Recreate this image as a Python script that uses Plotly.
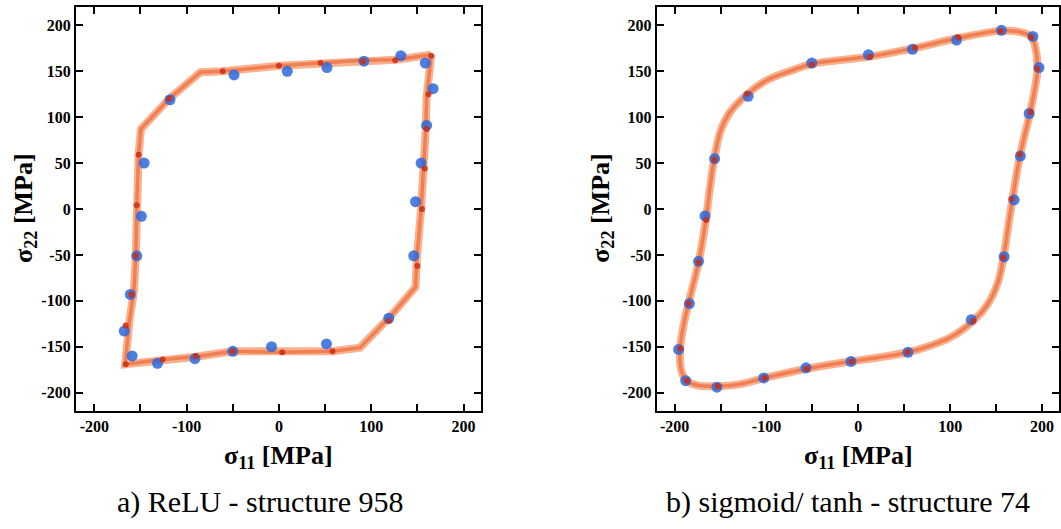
import plotly.graph_objects as go

# ---------------- data: a) ReLU - structure 958 ----------------
relu_path_x = [165, 160, 159, 157, 154, 149.5, 148, 122.5, 88, 58, 3.6, -50, -90, -126, -166,
               -166.5, -162, -157, -155, -154, -152, -149.5, -119, -85, -61, 0, 45, 92, 126, 165]
relu_path_y = [168, 122, 85, 45, 0, -53, -85, -115, -151, -155, -156, -155, -161, -164, -169,
               -169, -122, -89, -49, 4, 60, 87, 120, 149, 150, 156, 159, 162, 162.5, 168]

relu_red_x = [-61, 0, 45, 91, 126, 165, 162, 160, 158, 155, 150, 119, 58, 3.6, -50, -90, -126,
              -166, -166, -160, -155, -154, -152, -119]
relu_red_y = [150, 156, 159, 161, 162, 167, 125, 87, 44, 0, -62, -122, -155, -156, -155, -160,
              -164, -169, -127, -93, -51, 4, 59, 120]

relu_blue_x = [132, 158.6, 167, 160, 154, 148, 146, 119, 51.5, -8, -50, -91, -131.5, -159,
               -167.6, -161, -154, -149, -146, -118, -48.6, 9, 52, 92]
relu_blue_y = [167, 159, 131, 91, 50, 8, -51, -119, -147, -150, -155, -163, -168, -160, -133,
               -93, -51, -8, 50, 119, 146, 150, 154, 161]

# ---------------- data: b) sigmoid/ tanh - structure 74 ----------------
sig_path_x = [-50, 12, 60, 108, 155, 175, 188, 193, 195, 192, 187, 176, 168, 163, 158, 152, 140,
              125, 100, 75, 54, 20, -8, -56, -102, -130, -153, -175, -187, -193, -194, -190, -185,
              -174, -166, -162, -157, -150, -140, -121, -100, -75, -50]
sig_path_y = [158, 166, 175, 186, 194, 193, 188, 175, 152, 130, 105, 58, 12, -20, -53, -80, -105,
              -122, -140, -150, -156, -162, -166, -174, -184, -191, -193, -192, -187, -175, -152,
              -125, -103, -58, -12, 20, 54, 85, 105, 125, 140, 150, 158]

sig_red_x = [155, 188, 194.6, 187.7, 175.7, 166.7, 157.6, 125, 53.6, -7, -56, -102, -153,
             -186.6, -194, -185, -174, -165.6, -156.5, -121, -50.7, 12.7, 61.6, 108.7]
sig_red_y = [193.5, 187, 152.8, 105.6, 59.5, 11, -53, -122, -155.7, -166, -174, -184, -193,
             -187, -152, -103, -58, -12, 53.7, 125.6, 157, 165.5, 175.7, 187]

sig_blue_x = [155.8, 190, 196.7, 186, 176.4, 169.6, 158.7, 123, 54, -8, -57, -103, -154, -188,
              -195.7, -184, -174, -167, -156.5, -120, -50.7, 11, 59, 107]
sig_blue_y = [194.6, 188, 154, 104, 57.7, 10, -52, -120.5, -156, -166, -173, -184, -194, -187,
              -153, -103, -57, -7.6, 54.8, 122.7, 159, 168, 174, 184]

tick_vals = [-200, -150, -100, -50, 0, 50, 100, 150, 200]
x_tick_text = ["-200", " ", "-100", " ", "0", " ", "100", " ", "200"]
y_tick_text = ["-200", "-150", "-100", "-50", "0", "50", "100", "150", "200"]

captions = ["a) ReLU - structure 958", "b) sigmoid/ tanh - structure 74"]

W, H = 1061, 529
SERIF = "Liberation Serif, Times New Roman, DejaVu Serif, serif"

ORANGE_BAND = "rgba(246,145,95,0.72)"
ORANGE_CORE = "rgba(236,95,45,0.6)"
RED = "rgba(205,45,20,0.85)"
BLUE = "rgba(45,105,220,0.85)"

fig = go.Figure()


def add_panel(px, py, rx, ry, bx, by, xa, ya, shape):
    fig.add_trace(go.Scatter(x=px, y=py, mode="lines", xaxis=xa, yaxis=ya,
                             line=dict(color=ORANGE_BAND, width=8, shape=shape),
                             hoverinfo="skip", showlegend=False))
    fig.add_trace(go.Scatter(x=px, y=py, mode="lines", xaxis=xa, yaxis=ya,
                             line=dict(color=ORANGE_CORE, width=3.5, shape=shape),
                             hoverinfo="skip", showlegend=False))
    fig.add_trace(go.Scatter(x=bx, y=by, mode="markers", xaxis=xa, yaxis=ya,
                             marker=dict(color=BLUE, size=11, line=dict(width=0)),
                             showlegend=False))
    fig.add_trace(go.Scatter(x=rx, y=ry, mode="markers", xaxis=xa, yaxis=ya,
                             marker=dict(color=RED, size=6, line=dict(width=0)),
                             showlegend=False))


add_panel(relu_path_x, relu_path_y, relu_red_x, relu_red_y, relu_blue_x, relu_blue_y,
          "x", "y", "linear")
add_panel(sig_path_x, sig_path_y, sig_red_x, sig_red_y, sig_blue_x, sig_blue_y,
          "x2", "y2", "spline")

axis_common = dict(showline=True, linecolor="black", linewidth=2, mirror="ticks",
                   ticks="inside", ticklen=7, tickwidth=2, tickcolor="black",
                   showgrid=False, zeroline=False, tickmode="array", tickvals=tick_vals,
                   tickfont=dict(family=SERIF, size=16, color="black", weight="bold"),
                   fixedrange=True)

ytop = 1 - 7 / H
ybot = 1 - 411 / H

fig.update_layout(
    width=W, height=H,
    margin=dict(l=0, r=0, t=0, b=0),
    paper_bgcolor="white", plot_bgcolor="white",
    font=dict(family=SERIF),
    xaxis=dict(domain=[76 / W, 482 / W], range=[-220, 219], ticktext=x_tick_text,
               anchor="y", **axis_common),
    yaxis=dict(domain=[ybot, ytop], range=[-220, 220], ticktext=y_tick_text,
               anchor="x", **axis_common),
    xaxis2=dict(domain=[658 / W, 1.0], range=[-219.5, 218.5], ticktext=x_tick_text,
                anchor="y2", **axis_common),
    yaxis2=dict(domain=[ybot, ytop], range=[-220, 220], ticktext=y_tick_text,
                anchor="x2", **axis_common),
)

title_font = dict(family=SERIF, size=26, color="black", weight="bold")
cap_font = dict(family=SERIF, size=30, color="black")

for cx, ty_x in [(279, 25), (860, 603)]:
    fig.add_annotation(x=cx / W, y=1 - 457 / H, xref="paper", yref="paper",
                       text="σ<sub>11</sub> [MPa]", showarrow=False, font=title_font,
                       xanchor="center", yanchor="middle")
    fig.add_annotation(x=ty_x / W, y=1 - 208 / H, xref="paper", yref="paper",
                       text="σ<sub>22</sub> [MPa]", showarrow=False, font=title_font,
                       textangle=-90, xanchor="center", yanchor="middle")

for cx, txt in zip([261, 850], captions):
    fig.add_annotation(x=cx / W, y=1 - 502 / H, xref="paper", yref="paper",
                       text=txt, showarrow=False, font=cap_font,
                       xanchor="center", yanchor="middle")

fig.write_html("out.html")
